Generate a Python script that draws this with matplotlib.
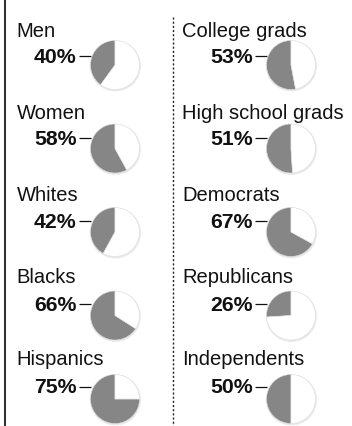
import matplotlib
matplotlib.use("Agg")
import matplotlib.pyplot as plt
from matplotlib.patches import Circle

plt.rcParams['font.family'] = ['Liberation Sans', 'DejaVu Sans']

left_labels = ['Men', 'Women', 'Whites', 'Blacks', 'Hispanics']
left_values = [40, 58, 42, 66, 75]
right_labels = ['College grads', 'High school grads', 'Democrats',
                'Republicans', 'Independents']
right_values = [53, 51, 67, 26, 50]

W, H = 352, 427
GRAY = '#868686'

fig = plt.figure(figsize=(W / 100, H / 100), dpi=100)
ax = fig.add_axes([0, 0, 1, 1])


def Y(py):
    # pixel row (from top) -> data y
    return H - py


def column(labels, values, x_label, x_pct, x_pie):
    r = 24.5
    for i, (lab, val) in enumerate(zip(labels, values)):
        pie_y = 66 + 83.5 * i
        ax.text(x_label, Y(36.7 + 82.2 * i), lab, fontsize=14.5,
                ha='left', va='baseline', color='#111111')
        ax.text(x_pct, Y(62.8 + 82.6 * i), f'{val}%', fontsize=15.3,
                fontweight='bold', ha='right', va='baseline', color='#111111')
        line_y = Y(56.5 + 82.8 * i)
        ax.plot([x_pct + 2, x_pie - r + 0.5], [line_y, line_y],
                color='#111111', lw=0.9, solid_capstyle='butt')
        # soft shadow under the pie
        ax.add_patch(Circle((x_pie + 0.4, Y(pie_y) - 0.9), r + 1.0,
                            facecolor='#e9e9e9', edgecolor='none', zorder=1))
        wedges, _ = ax.pie([val, 100 - val], colors=[GRAY, 'white'],
                           startangle=90, counterclock=True,
                           center=(x_pie, Y(pie_y)), radius=r,
                           wedgeprops=dict(edgecolor='#dddddd', linewidth=0.4),
                           frame=True)
        for w in wedges:
            w.set_zorder(3)


column(left_labels, left_values, 16.5, 76.5, 115)
column(right_labels, right_values, 182.5, 252.5, 291)

# left border and dotted divider
ax.plot([5, 5], [Y(0), Y(H)], color='#333333', lw=1.5)
ax.plot([172.5, 172.5], [Y(18), Y(H)], color='#222222', lw=1.0,
        linestyle=(0, (1.5, 1.5)))

ax.set_xlim(0, W)
ax.set_ylim(0, H)
ax.set_aspect('auto')
ax.axis('off')

fig.savefig('out.png', dpi=100, facecolor='white')
